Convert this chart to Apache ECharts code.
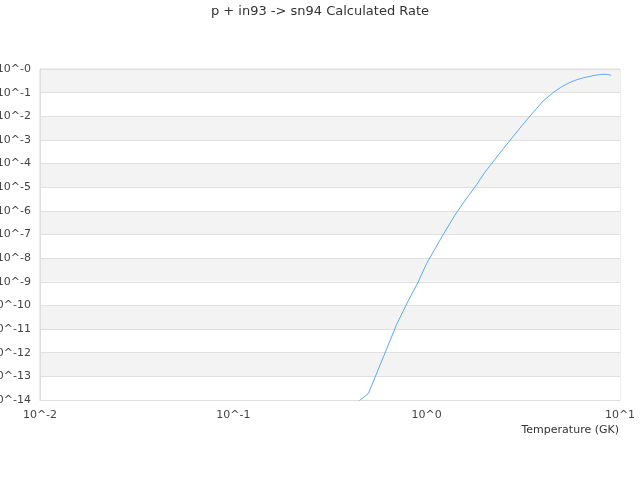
<!DOCTYPE html>
<html>
<head>
<meta charset="utf-8">
<script src="https://cdn.jsdelivr.net/npm/echarts@6/dist/echarts.min.js"></script>
<style>html,body{margin:0;padding:0;background:#fff;}#chart{width:640px;height:480px;}</style>
</head>
<body>
<div id="chart"></div>
<script>
// Temperature (GK)
var temperatures = [0.4, 0.5, 0.7, 0.8, 0.9, 1.0, 1.2, 1.4, 1.6, 1.8, 2.0, 2.5, 3.0, 3.5, 4.0, 4.5, 5.0, 5.5, 6.0, 6.5, 7.0, 7.5, 8.0, 8.5, 9.0];
// Calculated rate
var rates = [4.4e-15, 1.9e-14, 1.6e-11, 1.48e-10, 9.1e-10, 6.0e-9, 8.1e-8, 6.6e-7, 3.2e-6, 1.17e-5, 4.3e-5, 4.4e-4, 2.8e-3, 1.26e-2, 4.4e-2, 1.0e-1, 1.78e-1, 2.7e-1, 3.55e-1, 4.3e-1, 4.9e-1, 5.5e-1, 5.89e-1, 5.96e-1, 5.43e-1];
var titleText = 'p + in93 -> sn94 Calculated Rate';
var xName = 'Temperature (GK)';

var seriesData = temperatures.map(function (t, i) { return [t, rates[i]]; });

var chart = echarts.init(document.getElementById('chart'), null, { renderer: 'canvas' });
var font = 'DejaVu Sans';
chart.setOption({
  animation: false,
  backgroundColor: '#ffffff',
  title: {
    text: titleText,
    left: 'center',
    top: 5,
    padding: 0,
    textStyle: { fontFamily: font, fontSize: 13, fontWeight: 'normal', color: '#333333' }
  },
  grid: {
    left: 40, right: 20, top: 69, bottom: 80,
    show: true, borderColor: '#dddddd', borderWidth: 1, backgroundColor: 'transparent',
    containLabel: false,
    outerBoundsMode: 'none'
  },
  xAxis: {
    type: 'log',
    logBase: 10,
    min: 0.01,
    max: 10,
    interval: 1,
    name: xName,
    nameLocation: 'end',
    nameGap: 0,
    nameTextStyle: { fontFamily: font, fontSize: 11, color: '#333333', align: 'right', verticalAlign: 'top', padding: [25, 1, 0, 0] },
    axisLine: { show: true, lineStyle: { color: '#dddddd' } },
    axisTick: { show: false },
    splitLine: { show: false },
    axisLabel: {
      fontFamily: font, fontSize: 11, color: '#444444', margin: 10,
      formatter: function (v) { return '10^' + Math.round(Math.log10(v)); }
    }
  },
  yAxis: {
    type: 'log',
    logBase: 10,
    min: 1e-14,
    max: 1,
    interval: 1,
    axisLine: { show: true, lineStyle: { color: '#dddddd' } },
    axisTick: { show: false },
    splitLine: { show: true, lineStyle: { color: '#e0e0e0' } },
    splitArea: { show: true, areaStyle: { color: ['#ffffff', '#f3f3f3'] } },
    axisLabel: {
      fontFamily: font, fontSize: 11, color: '#444444', margin: 9,
      formatter: function (v) { return '10^-' + Math.round(-Math.log10(v)); }
    }
  },
  series: [{
    type: 'line',
    data: seriesData,
    showSymbol: false,
    symbol: 'none',
    smooth: false,
    clip: true,
    lineStyle: { color: '#5ea8f7', width: 1 }
  }]
});
</script>
</body>
</html>
